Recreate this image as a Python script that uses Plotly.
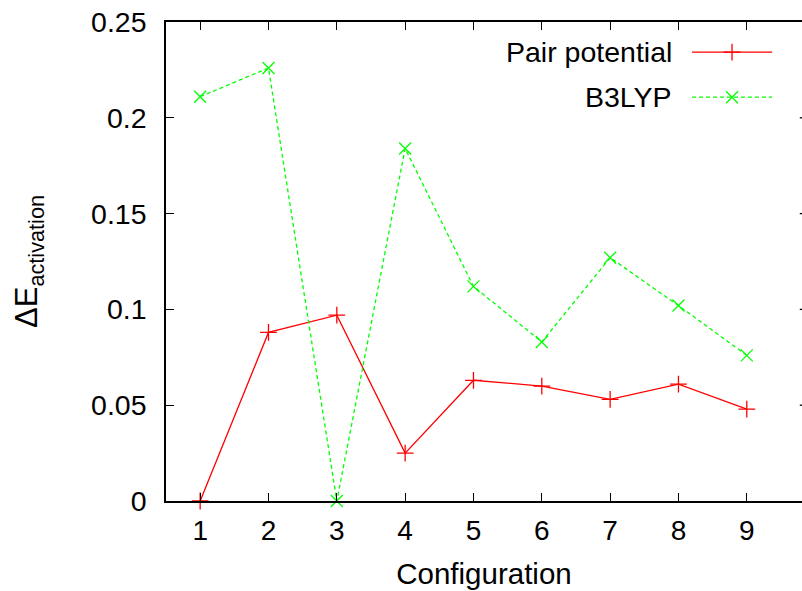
import plotly.graph_objects as go

configs = [1, 2, 3, 4, 5, 6, 7, 8, 9]
pair_potential = [0.0, 0.088, 0.097, 0.025, 0.063, 0.060, 0.053, 0.061, 0.048]
b3lyp = [0.211, 0.226, 0.0, 0.184, 0.112, 0.083, 0.127, 0.102, 0.076]
y_ticks = [0, 0.05, 0.1, 0.15, 0.2, 0.25]
y_tick_labels = ["0", "0.05", "0.1", "0.15", "0.2", "0.25"]
series_names = ["Pair potential", "B3LYP"]

RED = "#ff0000"
GREEN = "#00ff00"
FONT = "Liberation Sans"

fig = go.Figure()
fig.add_trace(go.Scatter(
    x=configs, y=pair_potential, mode="lines+markers", name=series_names[0],
    line=dict(color=RED, width=1.3),
    marker=dict(symbol="cross-thin-open", size=12, color=RED, line=dict(color=RED, width=1.3)),
    showlegend=False, cliponaxis=False))
fig.add_trace(go.Scatter(
    x=configs, y=b3lyp, mode="lines+markers", name=series_names[1],
    line=dict(color=GREEN, width=1.3, dash="4px,3px"),
    marker=dict(symbol="x-thin-open", size=12, color=GREEN, line=dict(color=GREEN, width=1.3)),
    showlegend=False, cliponaxis=False))

# manual legend (text left of sample, as in gnuplot)
leg_x = [0.827, 0.953]
leg_mid = 0.89
leg_y = [0.937, 0.843]
fig.add_trace(go.Scatter(x=leg_x, y=[leg_y[0]] * 2, xaxis="x2", yaxis="y2", mode="lines",
                         line=dict(color=RED, width=1.3), showlegend=False, hoverinfo="skip"))
fig.add_trace(go.Scatter(x=[leg_mid], y=[leg_y[0]], xaxis="x2", yaxis="y2", mode="markers",
                         marker=dict(symbol="cross-thin-open", size=12, color=RED,
                                     line=dict(color=RED, width=1.3)),
                         showlegend=False, hoverinfo="skip"))
fig.add_trace(go.Scatter(x=leg_x, y=[leg_y[1]] * 2, xaxis="x2", yaxis="y2", mode="lines",
                         line=dict(color=GREEN, width=1.3, dash="4px,3px"), showlegend=False, hoverinfo="skip"))
fig.add_trace(go.Scatter(x=[leg_mid], y=[leg_y[1]], xaxis="x2", yaxis="y2", mode="markers",
                         marker=dict(symbol="x-thin-open", size=12, color=GREEN,
                                     line=dict(color=GREEN, width=1.3)),
                         showlegend=False, hoverinfo="skip"))
for name, yy in zip(series_names, leg_y):
    fig.add_annotation(text=name, xref="paper", yref="paper", x=0.799, y=yy,
                       xanchor="right", yanchor="middle", showarrow=False,
                       font=dict(family=FONT, size=28.5, color="black"))

# right-side tick stubs (right border lies just outside the picture)
for t in y_ticks[1:-1]:
    fig.add_shape(type="line", xref="paper", yref="y", x0=0.9965, x1=1.0, y0=t, y1=t,
                  line=dict(color="black", width=1.3))

fig.update_layout(
    width=802, height=591,
    margin=dict(l=166, r=0, t=22, b=90),
    paper_bgcolor="white", plot_bgcolor="white",
    font=dict(family=FONT, size=28, color="black"),
    xaxis=dict(range=[0.5, 9.808], tickvals=configs, ticks="inside", ticklen=8,
               tickwidth=1.3, tickcolor="black", showline=True, linecolor="black",
               linewidth=1.5, mirror="ticks", showgrid=False, zeroline=False,
               tickfont=dict(size=28), ticklabelstandoff=4,
               title=dict(text="Configuration", font=dict(size=29.5), standoff=18)),
    yaxis=dict(range=[0, 0.25], tickvals=y_ticks, ticktext=y_tick_labels, ticks="inside",
               ticklen=8, tickwidth=1.3, tickcolor="black", showline=True,
               linecolor="black", linewidth=1.5, showgrid=False, zeroline=False,
               tickfont=dict(size=28.5), ticklabelstandoff=12,
               title=dict(text="ΔE<sub>activation</sub>", font=dict(size=31), standoff=44)),
    xaxis2=dict(range=[0, 1], overlaying="x", visible=False, fixedrange=True),
    yaxis2=dict(range=[0, 1], overlaying="y", visible=False, fixedrange=True),
)

fig.write_html("out.html")
